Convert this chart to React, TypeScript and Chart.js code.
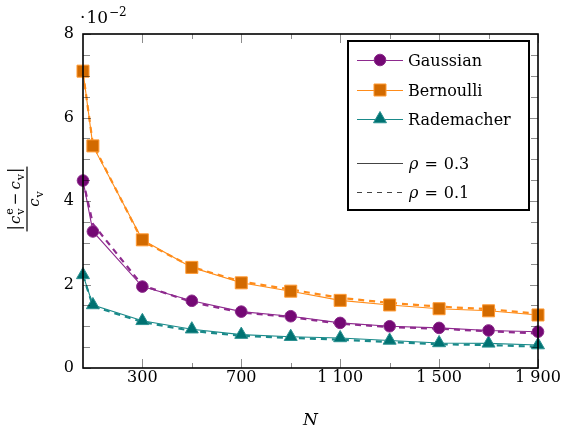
import React, { useEffect, useRef } from 'react';
import { Chart, registerables } from 'chart.js';

Chart.register(...registerables);

const N = [60, 100, 300, 500, 700, 900, 1100, 1300, 1500, 1700, 1900];
const gaussian03 = [4.49, 3.27, 1.95, 1.61, 1.35, 1.24, 1.08, 1.0, 0.96, 0.9, 0.87];
const gaussian01 = [4.5, 3.45, 1.98, 1.58, 1.33, 1.22, 1.06, 0.98, 0.94, 0.88, 0.83];
const bernoulli03 = [7.11, 5.32, 3.07, 2.41, 2.04, 1.84, 1.62, 1.51, 1.42, 1.37, 1.27];
const bernoulli01 = [7.08, 5.36, 3.04, 2.42, 2.07, 1.88, 1.68, 1.56, 1.47, 1.41, 1.3];
const rademacher03 = [2.23, 1.51, 1.13, 0.93, 0.8, 0.75, 0.72, 0.66, 0.6, 0.59, 0.55];
const rademacher01 = [2.22, 1.48, 1.1, 0.89, 0.77, 0.72, 0.68, 0.62, 0.57, 0.55, 0.51];

const xMajorTicks = [300, 700, 1100, 1500, 1900];
const xMinorTicks = [500, 900, 1300, 1700];
const yMajorTicks = [0, 2, 4, 6, 8];
const yMinorTicks = [0.5, 1, 1.5, 2.5, 3, 3.5, 4.5, 5, 5.5, 6.5, 7, 7.5];

const seriesNames = ['Gaussian', 'Bernoulli', 'Rademacher'];
const rhoLabels = ['0.3', '0.1'];

const FAM = '"DejaVu Serif", "Liberation Serif", serif';
const roman = (s: number) => `${s}px ${FAM}`;
const italic = (s: number) => `italic ${s}px ${FAM}`;

const PURPLE = { line: '#8e2a8e', fill: '#740874', edge: '#8a2a8a' };
const ORANGE = { line: '#ff8c1a', fill: '#d26a00', edge: '#ff9a33' };
const TEAL = { line: '#1a8a8a', fill: '#007272', edge: '#2a9090' };
const COLORS = [PURPLE, ORANGE, TEAL];
const STYLES = ['circle', 'rect', 'triangle'];
const RADII = [5.8, 8.5, 7.5];

type Seg = { t: string; font: string; dy?: number; kl?: number; kr?: number; stack?: boolean };

function drawRun(ctx: CanvasRenderingContext2D, segs: Seg[], x: number, y: number, draw = true): number {
  let cx = x;
  let pending = 0;
  for (const s of segs) {
    ctx.font = s.font;
    const w = ctx.measureText(s.t).width + (s.kl || 0);
    if (draw) ctx.fillText(s.t, cx + (s.kl || 0), y + (s.dy || 0));
    if (s.stack) {
      pending = Math.max(pending, w);
      continue;
    }
    cx += Math.max(pending, w) + (s.kr || 0);
    pending = 0;
  }
  return cx - x;
}

function drawMarker(ctx: CanvasRenderingContext2D, style: string, x: number, y: number, r: number, c: any) {
  ctx.save();
  ctx.fillStyle = c.fill;
  ctx.strokeStyle = c.edge;
  ctx.lineWidth = 1;
  ctx.beginPath();
  if (style === 'circle') {
    ctx.arc(x, y, r, 0, Math.PI * 2);
  } else if (style === 'rect') {
    const h = r * Math.SQRT1_2;
    ctx.rect(x - h, y - h, 2 * h, 2 * h);
  } else {
    for (let i = 0; i < 3; i++) {
      const a = (i * 2 * Math.PI) / 3;
      const px = x + Math.sin(a) * r;
      const py = y - Math.cos(a) * r;
      if (i === 0) ctx.moveTo(px, py);
      else ctx.lineTo(px, py);
    }
    ctx.closePath();
  }
  ctx.fill();
  ctx.stroke();
  ctx.restore();
}

const decorPlugin = {
  id: 'decor',
  afterDraw(chart: any) {
    const ctx: CanvasRenderingContext2D = chart.ctx;
    const { left, right, top, bottom } = chart.chartArea;
    const xs = chart.scales.x;
    const ys = chart.scales.y;
    ctx.save();
    // inward ticks
    ctx.strokeStyle = 'rgba(0,0,0,0.45)';
    ctx.lineWidth = 1;
    ctx.beginPath();
    const xt = (vals: number[], len: number) => {
      for (const v of vals) {
        const px = Math.round(xs.getPixelForValue(v)) + 0.5;
        ctx.moveTo(px, bottom);
        ctx.lineTo(px, bottom - len);
        ctx.moveTo(px, top);
        ctx.lineTo(px, top + len);
      }
    };
    const yt = (vals: number[], len: number) => {
      for (const v of vals) {
        const py = Math.round(ys.getPixelForValue(v)) + 0.5;
        ctx.moveTo(left, py);
        ctx.lineTo(left + len, py);
        ctx.moveTo(right, py);
        ctx.lineTo(right - len, py);
      }
    };
    xt(xMajorTicks, 9);
    xt(xMinorTicks, 5);
    yt(yMajorTicks, 8);
    yt(yMinorTicks, 7);
    ctx.stroke();

    // frame
    ctx.strokeStyle = '#000';
    ctx.lineWidth = 1.6;
    ctx.strokeRect(left, top, right - left, bottom - top);

    ctx.fillStyle = '#000';
    ctx.textBaseline = 'alphabetic';
    ctx.textAlign = 'left';

    // scale factor  ·10^-2
    drawRun(
      ctx,
      [
        { t: '·', font: roman(17), kr: 1 },
        { t: '10', font: roman(17) },
        { t: '−2', font: roman(12), dy: -7, kl: 1 },
      ],
      80,
      23
    );

    // x title
    ctx.font = italic(17);
    ctx.textAlign = 'center';
    ctx.fillText('N', (left + right) / 2, 425);
    ctx.textAlign = 'left';

    // y title: |c_v^e - c_v| / c_v rotated
    ctx.save();
    ctx.translate(27, 199);
    ctx.rotate(-Math.PI / 2);
    const num: Seg[] = [
      { t: '|', font: roman(16), kr: 1 },
      { t: 'c', font: italic(15) },
      { t: 'e', font: roman(11), dy: -7, stack: true, kl: 1 },
      { t: 'v', font: roman(11), dy: 4, kl: 1, kr: 3 },
      { t: '−', font: roman(15), kr: 3 },
      { t: 'c', font: italic(15) },
      { t: 'v', font: roman(11), dy: 4, kl: 1, kr: 1 },
      { t: '|', font: roman(16) },
    ];
    const den: Seg[] = [
      { t: 'c', font: italic(15) },
      { t: 'v', font: roman(11), dy: 4, kl: 1 },
    ];
    const nw = drawRun(ctx, num, 0, 0, false);
    const dw = drawRun(ctx, den, 0, 0, false);
    drawRun(ctx, num, -nw / 2, -7);
    drawRun(ctx, den, -dw / 2, 12);
    ctx.fillRect(-nw / 2 - 1, -0.6, nw + 2, 1.2);
    ctx.restore();

    // legend
    const lx = 348, ly = 41, lw = 181, lh = 169;
    ctx.fillStyle = '#fff';
    ctx.fillRect(lx, ly, lw, lh);
    ctx.strokeStyle = '#000';
    ctx.lineWidth = 2;
    ctx.strokeRect(lx, ly, lw, lh);
    const rowsY = [60, 90, 119];
    for (let i = 0; i < 3; i++) {
      const y = rowsY[i];
      ctx.strokeStyle = COLORS[i].line;
      ctx.lineWidth = 1;
      ctx.setLineDash([]);
      ctx.beginPath();
      ctx.moveTo(357, y + 0.5);
      ctx.lineTo(403, y + 0.5);
      ctx.stroke();
      drawMarker(ctx, STYLES[i], 380, y, RADII[i], COLORS[i]);
      ctx.fillStyle = '#000';
      ctx.font = roman(16);
      ctx.fillText(seriesNames[i], 408, y + 6);
    }
    const rhoY = [163, 192];
    for (let i = 0; i < 2; i++) {
      const y = rhoY[i];
      ctx.strokeStyle = '#444';
      ctx.lineWidth = 1;
      ctx.setLineDash(i === 0 ? [] : [5, 5]);
      ctx.beginPath();
      ctx.moveTo(357, y + 0.5);
      ctx.lineTo(403, y + 0.5);
      ctx.stroke();
      ctx.setLineDash([]);
      ctx.fillStyle = '#000';
      drawRun(
        ctx,
        [
          { t: 'ρ', font: italic(16), kr: 6 },
          { t: '=', font: roman(16), kr: 6 },
          { t: rhoLabels[i], font: roman(16) },
        ],
        409,
        y + 6
      );
    }
    ctx.restore();
  },
};

function fmtTick(v: number): string {
  if (v >= 1000) {
    return `${Math.floor(v / 1000)} ${String(v % 1000).padStart(3, '0')}`;
  }
  return String(v);
}

export default function App() {
  const ref = useRef<HTMLCanvasElement | null>(null);
  useEffect(() => {
    if (!ref.current) return;
    const solid = [gaussian03, bernoulli03, rademacher03];
    const dashed = [gaussian01, bernoulli01, rademacher01];
    const datasets: any[] = [];
    for (let i = 0; i < 3; i++) {
      datasets.push({
        label: `${seriesNames[i]} ρ=${rhoLabels[0]}`,
        data: N.map((n, k) => ({ x: n, y: solid[i][k] })),
        borderColor: COLORS[i].line,
        borderWidth: 1.1,
        pointStyle: STYLES[i],
        pointRadius: RADII[i],
        pointBackgroundColor: COLORS[i].fill,
        pointBorderColor: COLORS[i].edge,
        pointBorderWidth: 1,
        tension: 0,
        clip: false,
      });
    }
    for (let i = 0; i < 3; i++) {
      datasets.push({
        label: `${seriesNames[i]} ρ=${rhoLabels[1]}`,
        data: N.map((n, k) => ({ x: n, y: dashed[i][k] })),
        borderColor: COLORS[i].line,
        borderWidth: 2.2,
        borderDash: [6, 5],
        pointRadius: 0,
        tension: 0,
        clip: false,
      });
    }
    const chart = new Chart(ref.current, {
      type: 'line',
      data: { datasets },
      options: {
        animation: false,
        responsive: false,
        maintainAspectRatio: false,
        layout: { padding: { left: 0, right: 26, top: 34, bottom: 0 } },
        plugins: { legend: { display: false }, tooltip: { enabled: false } },
        scales: {
          x: {
            type: 'linear',
            min: N[0],
            max: 1900,
            grid: { display: false, drawTicks: false },
            border: { display: false },
            ticks: {
              autoSkip: false,
              maxRotation: 0,
              padding: 0,
              color: '#000',
              font: { family: FAM, size: 16 },
              callback: (v: any) => fmtTick(Number(v)),
            },
            afterBuildTicks: (s: any) => {
              s.ticks = xMajorTicks.map((v) => ({ value: v }));
            },
            afterFit: (s: any) => {
              s.height = 64;
            },
          },
          y: {
            type: 'linear',
            min: 0,
            max: 8,
            grid: { display: false, drawTicks: false },
            border: { display: false },
            ticks: {
              autoSkip: false,
              padding: 9,
              color: '#000',
              font: { family: FAM, size: 16 },
              callback: (v: any) => String(v),
            },
            afterBuildTicks: (s: any) => {
              s.ticks = yMajorTicks.map((v) => ({ value: v }));
            },
            afterFit: (s: any) => {
              s.width = 83;
            },
          },
        },
      } as any,
      plugins: [decorPlugin],
    });
    return () => chart.destroy();
  }, []);
  return (
    <div style={{ position: 'fixed', left: 0, top: 0, width: 564, height: 432, background: '#fff' }}>
      <canvas ref={ref} width={564} height={432} style={{ display: 'block' }} />
    </div>
  );
}
